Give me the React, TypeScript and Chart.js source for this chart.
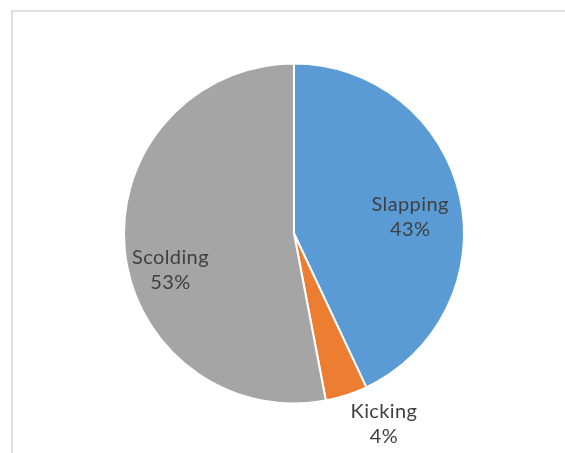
import React, { useEffect, useRef } from "react";
import { Chart, registerables } from "chart.js";

Chart.register(...registerables);

const categories = ["Slapping", "Kicking", "Scolding"];
const values = [43, 4, 53];
const percentLabels = ["43%", "4%", "53%"];
const colors = ["#5B9BD5", "#ED7D31", "#A5A5A5"];

// label placement: angle shift (deg) from slice mid-angle, and radius fraction
const LABEL_PLACEMENT = [
  { da: 4.5, rf: 0.69 },
  { da: -7.3, rf: 1.238 },
  { da: -10.9, rf: 0.757 },
];

const labelPlugin = {
  id: "sliceLabels",
  afterDatasetsDraw(chart: any) {
    const ctx = chart.ctx;
    const meta = chart.getDatasetMeta(0);
    ctx.save();
    ctx.font = "20px Lato";
    (ctx as any).letterSpacing = "0.4px";
    ctx.fillStyle = "#404040";
    ctx.textAlign = "center";
    ctx.textBaseline = "middle";
    meta.data.forEach((arc: any, i: number) => {
      const p = arc.getProps(["x", "y", "startAngle", "endAngle", "outerRadius"], true);
      const mid = (p.startAngle + p.endAngle) / 2 + (LABEL_PLACEMENT[i].da * Math.PI) / 180;
      const r = p.outerRadius * LABEL_PLACEMENT[i].rf;
      const cx = p.x + Math.cos(mid) * r;
      const cy = p.y + Math.sin(mid) * r;
      ctx.fillText(categories[i], cx, cy - 12.5);
      ctx.fillText(percentLabels[i], cx, cy + 13);
    });
    ctx.restore();
  },
};

export default function App() {
  const ref = useRef<HTMLCanvasElement | null>(null);
  useEffect(() => {
    if (!ref.current) return;
    const chart = new Chart(ref.current, {
      type: "pie",
      data: {
        labels: categories,
        datasets: [
          {
            data: values,
            backgroundColor: colors,
            borderColor: "#ffffff",
            borderWidth: 2,
          },
        ],
      },
      options: {
        animation: false,
        responsive: false,
        maintainAspectRatio: false,
        layout: { padding: { left: 123, right: 100, top: 62, bottom: 48 } },
        plugins: {
          legend: { display: false },
          tooltip: { enabled: false },
        },
      },
      plugins: [labelPlugin],
    });
    return () => chart.destroy();
  }, []);
  return (
    <div style={{ position: "fixed", left: 0, top: 0, width: 565, height: 453, overflow: "hidden", background: "#fff" }}>
      <div
        style={{
          position: "absolute",
          left: 11,
          top: 10,
          width: 600,
          height: 500,
          border: "2px solid #e0e0e0",
          boxSizing: "border-box",
        }}
      />
      <canvas ref={ref} width={565} height={453} style={{ position: "absolute", left: 0, top: 0 }} />
    </div>
  );
}
